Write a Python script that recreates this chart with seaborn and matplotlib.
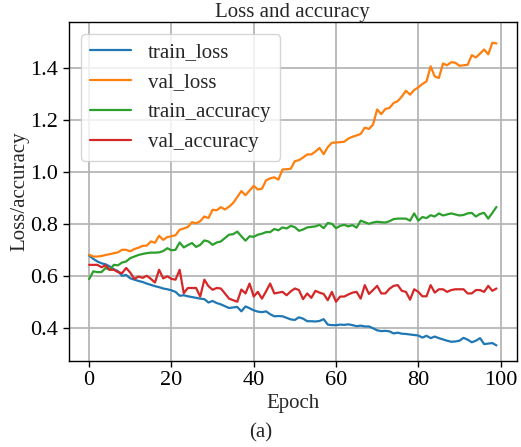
import numpy as np
import pandas as pd
import matplotlib
matplotlib.use('Agg')
import matplotlib.pyplot as plt
import seaborn as sns

# values, one per epoch
epochs = list(range(100))

train_loss = [
    0.678, 0.665, 0.655, 0.648, 0.644, 0.636, 0.625, 0.618, 0.600, 0.603,
    0.590, 0.585, 0.580, 0.576, 0.570, 0.565, 0.560, 0.556, 0.551, 0.548,
    0.544, 0.538, 0.523, 0.525, 0.521, 0.518, 0.515, 0.512, 0.510, 0.497,
    0.503, 0.495, 0.490, 0.483, 0.476, 0.478, 0.480, 0.463, 0.482, 0.475,
    0.467, 0.462, 0.460, 0.463, 0.452, 0.444, 0.445, 0.444, 0.438, 0.432,
    0.430, 0.440, 0.435, 0.425, 0.425, 0.424, 0.426, 0.433, 0.412, 0.410,
    0.410, 0.412, 0.411, 0.413, 0.410, 0.406, 0.408, 0.405, 0.405, 0.398,
    0.390, 0.387, 0.388, 0.386, 0.378, 0.381, 0.377, 0.376, 0.374, 0.372,
    0.370, 0.362, 0.369, 0.360, 0.366, 0.360, 0.355, 0.350, 0.346, 0.347,
    0.350, 0.361, 0.354, 0.344, 0.350, 0.360, 0.337, 0.339, 0.341, 0.332,
]

val_loss = [
    0.681, 0.674, 0.674, 0.676, 0.680, 0.683, 0.687, 0.690, 0.700, 0.700,
    0.694, 0.703, 0.708, 0.715, 0.716, 0.732, 0.727, 0.754, 0.738, 0.749,
    0.752, 0.756, 0.777, 0.782, 0.788, 0.806, 0.802, 0.810, 0.828, 0.822,
    0.854, 0.852, 0.864, 0.855, 0.866, 0.880, 0.903, 0.926, 0.910, 0.928,
    0.946, 0.932, 0.935, 0.967, 0.975, 0.979, 0.970, 1.009, 1.010, 1.012,
    1.041, 1.045, 1.055, 1.067, 1.067, 1.078, 1.092, 1.068, 1.095, 1.112,
    1.113, 1.114, 1.116, 1.128, 1.135, 1.140, 1.146, 1.170, 1.165, 1.182,
    1.240, 1.222, 1.242, 1.246, 1.265, 1.272, 1.290, 1.312, 1.297, 1.315,
    1.325, 1.338, 1.348, 1.406, 1.367, 1.361, 1.417, 1.410, 1.422, 1.420,
    1.408, 1.410, 1.412, 1.449, 1.440, 1.455, 1.471, 1.452, 1.497, 1.494,
]

train_accuracy = [
    0.587, 0.617, 0.614, 0.614, 0.630, 0.623, 0.642, 0.640, 0.651, 0.655,
    0.668, 0.674, 0.680, 0.684, 0.687, 0.689, 0.689, 0.690, 0.695, 0.706,
    0.698, 0.700, 0.728, 0.709, 0.718, 0.726, 0.711, 0.719, 0.736, 0.732,
    0.719, 0.728, 0.732, 0.745, 0.758, 0.760, 0.770, 0.752, 0.735, 0.752,
    0.750, 0.758, 0.762, 0.768, 0.768, 0.780, 0.775, 0.786, 0.782, 0.792,
    0.787, 0.773, 0.778, 0.786, 0.788, 0.790, 0.796, 0.783, 0.803, 0.800,
    0.783, 0.792, 0.796, 0.790, 0.795, 0.785, 0.812, 0.806, 0.800, 0.805,
    0.808, 0.806, 0.805, 0.810, 0.818, 0.820, 0.820, 0.820, 0.812, 0.840,
    0.812, 0.826, 0.822, 0.833, 0.828, 0.840, 0.832, 0.836, 0.840, 0.836,
    0.832, 0.834, 0.840, 0.842, 0.828, 0.838, 0.842, 0.820, 0.842, 0.865,
]

val_accuracy = [
    0.642, 0.642, 0.642, 0.633, 0.640, 0.623, 0.623, 0.614, 0.610, 0.630,
    0.612, 0.588, 0.597, 0.592, 0.600, 0.588, 0.574, 0.623, 0.590, 0.598,
    0.588, 0.585, 0.623, 0.533, 0.553, 0.553, 0.553, 0.520, 0.585, 0.560,
    0.546, 0.553, 0.551, 0.532, 0.512, 0.506, 0.500, 0.547, 0.532, 0.570,
    0.520, 0.538, 0.512, 0.540, 0.570, 0.532, 0.535, 0.538, 0.525, 0.540,
    0.551, 0.545, 0.510, 0.532, 0.515, 0.542, 0.535, 0.530, 0.506, 0.538,
    0.500, 0.520, 0.520, 0.528, 0.535, 0.538, 0.512, 0.564, 0.530, 0.545,
    0.561, 0.532, 0.532, 0.550, 0.561, 0.564, 0.542, 0.538, 0.508, 0.548,
    0.538, 0.521, 0.521, 0.564, 0.535, 0.548, 0.548, 0.538, 0.545, 0.548,
    0.548, 0.548, 0.532, 0.532, 0.545, 0.545, 0.538, 0.561, 0.542, 0.551,
]

series_names = ['train_loss', 'val_loss', 'train_accuracy', 'val_accuracy']
series_values = [train_loss, val_loss, train_accuracy, val_accuracy]

# long-form table for seaborn
frames = []
for name, vals in zip(series_names, series_values):
    frames.append(pd.DataFrame({'Epoch': epochs, 'value': vals, 'metric': name}))
df = pd.concat(frames, ignore_index=True)

sns.set_theme(style='ticks')
plt.rcParams['font.family'] = ['Liberation Serif', 'DejaVu Serif']
plt.rcParams['mathtext.fontset'] = 'stix'

fig = plt.figure(figsize=(5.21, 4.47), dpi=100)
ax = fig.add_axes([0.132, 0.193, 0.860, 0.758])

palette = sns.color_palette('tab10', 4)
sns.lineplot(data=df, x='Epoch', y='value', hue='metric', hue_order=series_names,
             palette=palette, linewidth=1.6, ax=ax)

ax.set_xlim(-4.95, 103.95)
ax.set_ylim(0.273, 1.577)
ax.grid(True, color='#b0b0b0', linewidth=1.2)
ax.set_axisbelow(True)
for side in ax.spines.values():
    side.set_color('black')
    side.set_linewidth(1.0)
ax.tick_params(axis='both', colors='black', labelsize=16, length=4, width=1)
ax.set_xticks([0, 20, 40, 60, 80, 100])
ax.set_yticks([0.4, 0.6, 0.8, 1.0, 1.2, 1.4])

ax.set_title('Loss and accuracy', fontsize=15, pad=3)
ax.set_xlabel('Epoch', fontsize=15, labelpad=3)
ax.set_ylabel('Loss/accuracy', fontsize=15, labelpad=1)

ax.legend(loc='upper left', fontsize=15, frameon=True, fancybox=True,
          borderaxespad=0.6)

fig.text(0.5, 0.032, '(a)', ha='center', va='center', fontsize=15)

fig.savefig('out.png', dpi=100)
